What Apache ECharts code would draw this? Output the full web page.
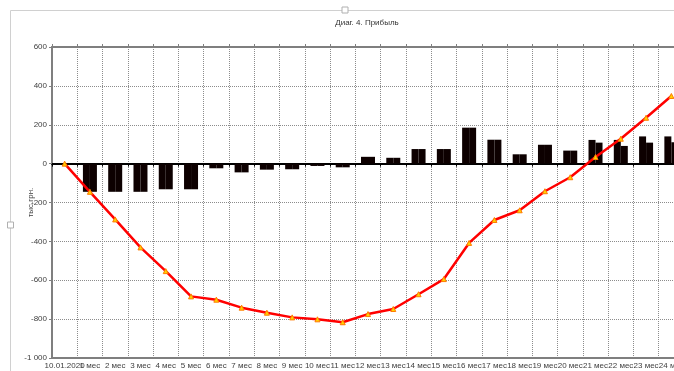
<!DOCTYPE html>
<html>
<head>
<meta charset="utf-8">
<script src="https://cdn.jsdelivr.net/npm/echarts@6/dist/echarts.min.js"></script>
<style>
  html, body { margin: 0; padding: 0; background: #fff; }
  #chart { width: 674px; height: 371px; }
</style>
</head>
<body>
<div id="chart"></div>
<script>
// categories
const months = ['10.01.2020'];
for (let i = 1; i <= 24; i++) months.push(i + ' мес');

// monthly profit, two bar halves (equal until 20 мес)
const barLeft = [0, -145, -145, -145, -132, -132, -24, -45, -31, -29, -12, -19,
  35, 30, 75, 75, 185, 123, 48, 97, 67, 122, 122, 140, 140];
const barRight = [0, -145, -145, -145, -132, -132, -24, -45, -31, -29, -12, -19,
  35, 30, 75, 75, 185, 123, 48, 97, 67, 108, 91, 108, 110];
// cumulative line
const cumulative = [0, -145, -287, -431, -553, -683, -700, -741, -767, -791, -801, -816,
  -774, -748, -672, -594, -408, -290, -240, -142, -70, 34, 128, 236, 348];

const chart = echarts.init(document.getElementById('chart'));
const font = 'Liberation Sans, Arial, sans-serif';

chart.setOption({
  animation: false,
  backgroundColor: '#fff',
  graphic: [
    { type: 'rect', shape: { x: 10.5, y: 10.5, width: 700, height: 400 },
      style: { fill: 'none', stroke: '#d0d0d0', lineWidth: 1 }, silent: true },
    { type: 'rect', shape: { x: 342, y: 7, width: 6, height: 6 },
      style: { fill: '#fff', stroke: '#b0b0b0', lineWidth: 1 }, silent: true },
    { type: 'rect', shape: { x: 7.5, y: 222, width: 6, height: 6 },
      style: { fill: '#fff', stroke: '#b0b0b0', lineWidth: 1 }, silent: true },
    { type: 'text', x: 367, y: 19,
      style: { text: 'Диаг. 4. Прибыль', font: '8px ' + font, fill: '#333', textAlign: 'center' } }
  ],
  grid: { left: 52, top: 47, width: 632, height: 311, outerBoundsMode: 'none' },
  xAxis: [
    {
      type: 'category', data: months, position: 'bottom',
      axisLine: { onZero: false, lineStyle: { color: '#7f7f7f', width: 2 } },
      axisTick: { show: false },
      axisLabel: { interval: 0, fontSize: 8, fontFamily: font, color: '#404040', margin: 4 },
      splitLine: { show: true, interval: 0, lineStyle: { color: '#8c8c8c', type: 'dotted', width: 1 } }
    },
    {
      type: 'category', data: months, position: 'top',
      axisLine: { onZero: false, lineStyle: { color: '#7f7f7f', width: 2 } },
      axisTick: { show: true, interval: 0, length: 3, lineStyle: { color: '#7f7f7f' } },
      axisLabel: { show: false },
      splitLine: { show: false }
    },
    {
      type: 'category', data: months, position: 'bottom',
      axisLine: { onZero: true, lineStyle: { color: '#000', width: 2 } },
      axisTick: { show: true, interval: 0, length: 3, lineStyle: { color: '#000' } },
      axisLabel: { show: false },
      splitLine: { show: false }
    }
  ],
  yAxis: {
    type: 'value', min: -1000, max: 600, interval: 200,
    name: 'тыс.грн.', nameLocation: 'middle', nameGap: 17, nameRotate: 90,
    nameMoveOverlap: false,
    nameTextStyle: { fontSize: 8, fontFamily: font, color: '#404040' },
    axisLine: { show: true, lineStyle: { color: '#7f7f7f', width: 2 } },
    axisTick: { show: true, length: 3, lineStyle: { color: '#7f7f7f' } },
    axisLabel: {
      fontSize: 8, fontFamily: font, color: '#404040', margin: 5,
      formatter: v => (v === -1000 ? '-1 000' : String(v))
    },
    splitLine: { lineStyle: { color: '#8c8c8c', type: 'dotted', width: 1 } }
  },
  series: [
    {
      type: 'bar', data: barLeft, xAxisIndex: 0, barWidth: 7, barGap: '0%',
      itemStyle: { color: '#0d0000' }, z: 2
    },
    {
      type: 'bar', data: barRight, xAxisIndex: 0, barWidth: 7, barGap: '0%',
      itemStyle: { color: '#0d0000' }, z: 2
    },
    {
      type: 'line', data: cumulative, xAxisIndex: 0,
      symbol: 'triangle', symbolSize: 5, showAllSymbol: true,
      lineStyle: { color: '#ff0000', width: 2.5 },
      itemStyle: { color: '#ffd200', borderColor: '#ff7a00', borderWidth: 1 },
      z: 5
    }
  ]
});
</script>
</body>
</html>
